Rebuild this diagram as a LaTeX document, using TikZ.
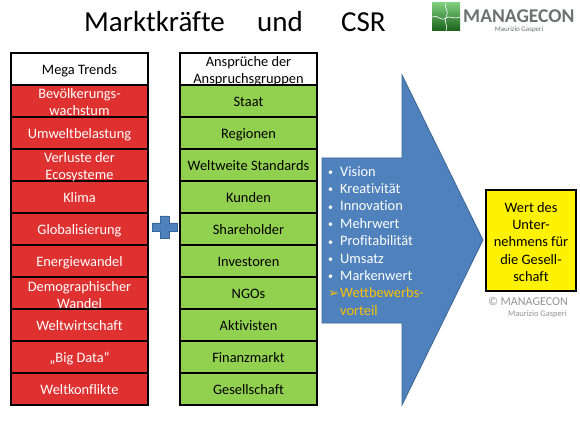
\documentclass[tikz,border=0pt]{standalone}
\usepackage{fontspec}
\setmainfont{Carlito}[Ligatures=NoCommon]
\usetikzlibrary{calc}
\definecolor{redc}{HTML}{E03131}
\definecolor{greenc}{HTML}{92D050}
\definecolor{bluec}{HTML}{4F81BD}
\definecolor{blued}{HTML}{3A6597}
\definecolor{gold}{HTML}{FFC000}
\definecolor{graylogo}{HTML}{6D7173}
\newcommand{\blt}{\makebox[12pt][l]{\raisebox{0.6pt}{\fontsize{10}{12}\selectfont •}}}
\newcommand{\tline}[2]{\makebox[0pt]{\raisebox{#1}[0pt][0pt]{#2}}}
\newcommand{\two}[2]{\tline{7.5pt}{#1}\tline{-9.5pt}{#2}}
\tikzset{
  cell/.style={draw=black,line width=1.3pt,minimum width=137pt,minimum height=32pt,inner sep=0pt,align=center,font=\fontsize{14.4}{17.4}\selectfont,execute at begin node={\rule{0pt}{15pt}},execute at end node={\rule[-4pt]{0pt}{4pt}}},
  redcell/.style={cell,fill=redc,text=white},
  greencell/.style={cell,fill=greenc,text=black},
  headcell/.style={cell,fill=white,text=black},
  bluefill/.style={fill=bluec,draw=blued,line width=0.8pt},
  titletext/.style={font=\fontsize{29}{34}\selectfont,anchor=base west,inner sep=0pt},
}
\begin{document}
\begin{tikzpicture}[x=1pt,y=-1pt]
\useasboundingbox (0,0) rectangle (580,435);
\fill[white] (0,0) rectangle (580,435);
\node[titletext] (title1) at (84,32) {Marktkräfte};
\node[titletext] (title2) at (257,32) {und};
\node[titletext] (title3) at (341,32) {CSR};
% logo
\shade[left color=green!45!gray!70!white,right color=green!35!black!80!gray,shading angle=0] (432,3) rectangle (460,31);
\draw[white,line width=0.6pt] (432,17) .. controls (438,14) and (440,22) .. (446,18) .. controls (450,15) and (454,20) .. (460,17)
  (446,3) .. controls (443,8) and (450,10) .. (446,17) .. controls (443,22) and (449,26) .. (446,31);
\node[font=\bfseries\fontsize{19.5}{22}\selectfont,text=graylogo,anchor=west,inner sep=0pt] (logo) at (463,16) {MANAGECON};
\node[font=\fontsize{7}{8}\selectfont,text=graylogo,anchor=center,inner sep=0pt] (logosub) at (519,30) {Maurizio Gasperi};
% left column (drawn bottom-up so that descenders stay on top of the next row)
\foreach \n/\t [count=\i from 0] in {a10/{Weltkonflikte},a9/{„Big Data“},a8/{Weltwirtschaft},a7/{\two{Demographischer}{Wandel}},a6/{Energiewandel},a5/{Globalisierung},a4/{Klima},a3/{\two{Verluste der}{Ecosysteme}},a2/{Umweltbelastung},a1/{\two{Bevölkerungs-}{wachstum}}}
  \node[redcell] (\n) at (79.5,389-32*\i) {\t};
\node[headcell] (h1) at (79.5,69) {Mega Trends};
% middle column
\foreach \n/\t [count=\i from 0] in {b10/{Gesellschaft},b9/{Finanzmarkt},b8/{Aktivisten},b7/{NGOs},b6/{Investoren},b5/{Shareholder},b4/{Kunden},b3/{Weltweite Standards},b2/{Regionen},b1/{Staat}}
  \node[greencell] (\n) at (248.5,389-32*\i) {\t};
\node[headcell] (h2) at (248.5,69) {\two{Ansprüche der}{Anspruchsgruppen}};
% plus
\draw[bluefill] (160,216) -- (169,216) -- (169,223) -- (177,223) -- (177,231) -- (169,231) -- (169,238) -- (160,238) -- (160,231) -- (152,231) -- (152,223) -- (160,223) -- cycle;
% arrow
\draw[bluefill] (322,158) -- (402,158) -- (402,75) -- (483,240) -- (402,405) -- (402,323) -- (322,323) -- cycle;
\node[anchor=north west,inner sep=0pt,text=white,font=\fontsize{14.4}{17.4}\selectfont,align=left] (list) at (328,166) {%
\blt Vision\\
\blt Kreativität\\
\blt Innovation\\
\blt Mehrwert\\
\blt Profitabilität\\
\blt Umsatz\\
\blt Markenwert\\
\textcolor{gold}{\makebox[12pt][l]{\fontspec{DejaVu Sans}\fontsize{13}{13}\selectfont ➢}Wettbewerbs-}\\
\textcolor{gold}{\hspace*{12pt}vorteil}};
% yellow
\node[cell,fill=yellow,minimum width=90pt,minimum height=101pt] (wert) at (531,240.5) {\tline{33.5pt}{Wert des}\tline{16.5pt}{Unter-}\tline{-1pt}{nehmens für}\tline{-18.5pt}{die Gesell-}\tline{-36pt}{schaft}};
\node[anchor=east,inner sep=0pt,text=gray!85,font=\fontsize{12}{13}\selectfont] (c1) at (568,301) {© MANAGECON};
\node[anchor=east,inner sep=0pt,text=gray!85,font=\fontsize{8.5}{10}\selectfont] (c2) at (567,314) {Maurizio Gasperi};
\end{tikzpicture}
\end{document}
